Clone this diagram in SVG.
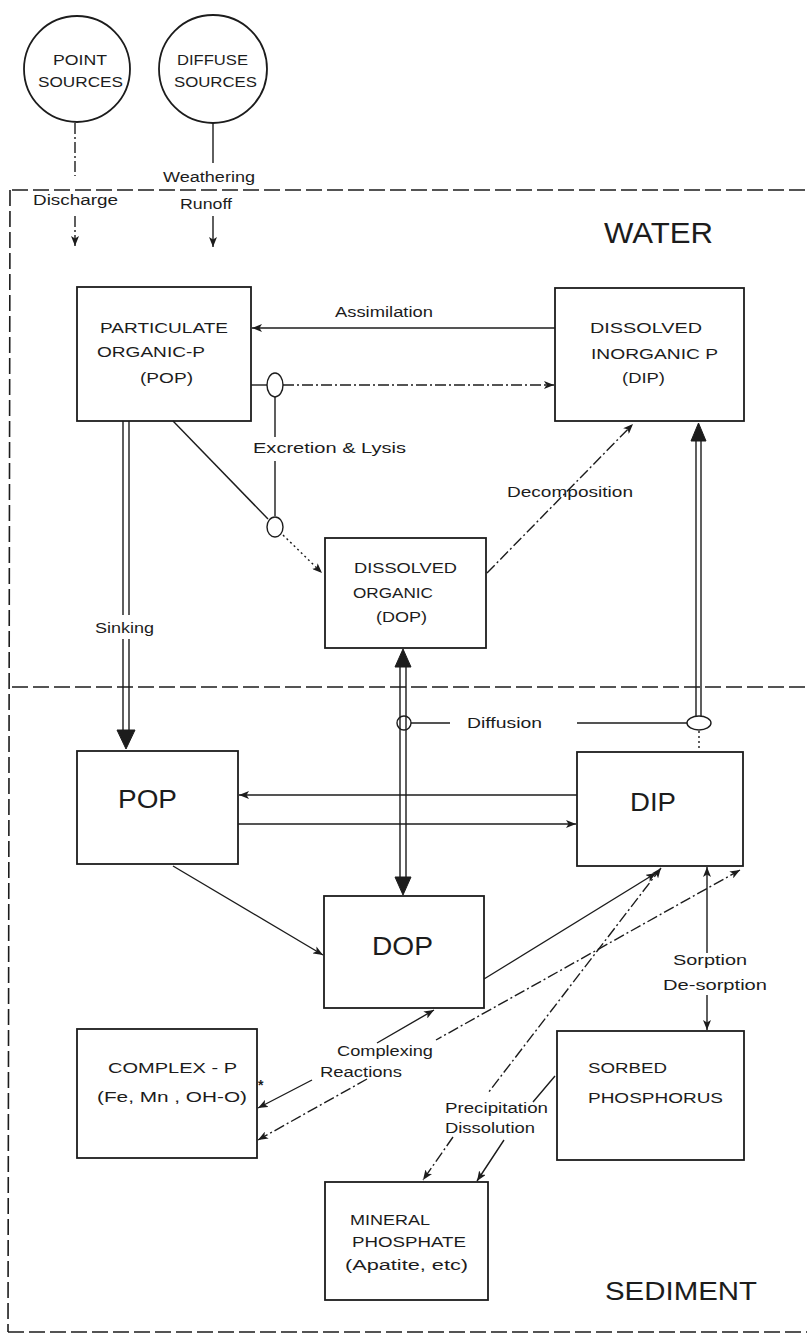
<svg xmlns="http://www.w3.org/2000/svg" width="807" height="1340" viewBox="0 0 807 1340">
<style>
.bg{fill:#ffffff}
.box{fill:none;stroke:#1c1c1c;stroke-width:1.8}
.ln{fill:none;stroke:#1c1c1c;stroke-width:1.4}
.dd{stroke-dasharray:11 3 2 3}
.dt{stroke-dasharray:2 3}
.bd{fill:none;stroke:#1c1c1c;stroke-width:1.6;stroke-dasharray:16 5}
.hd{fill:#1c1c1c;stroke:#1c1c1c;stroke-width:1}
.t{font-family:"Liberation Sans",Arial,sans-serif;fill:#1c1c1c}
.cap{font-size:15px}
.lab{font-size:14px}
.big{font-size:25px}
</style>
<defs>
<marker id="ah" viewBox="0 0 10 8" refX="10" refY="4" markerWidth="10" markerHeight="8" markerUnits="userSpaceOnUse" orient="auto-start-reverse">
<path d="M0,0 L10,4 L0,8 L2.5,4 z" fill="#1c1c1c"/>
</marker>
</defs>
<rect class="bg" x="0" y="0" width="807" height="1340"/>

<g id="boundaries">
<path class="bd" d="M12,190 L807,190"/>
<path class="bd" d="M10,190 L8,1332"/>
<path class="bd" d="M8,1332 L807,1332"/>
<path class="bd" d="M12,687 L807,687"/>
<text class="t" x="604" y="243" font-size="30" textLength="109" lengthAdjust="spacingAndGlyphs">WATER</text>
<text class="t" x="605" y="1300" font-size="26" textLength="152" lengthAdjust="spacingAndGlyphs">SEDIMENT</text>
</g>

<g id="point-sources">
<circle class="box" cx="77" cy="69" r="53"/>
<text class="t cap" x="53" y="65" textLength="54" lengthAdjust="spacingAndGlyphs">POINT</text>
<text class="t cap" x="38" y="87" textLength="85" lengthAdjust="spacingAndGlyphs">SOURCES</text>
</g>

<g id="diffuse-sources">
<circle class="box" cx="213" cy="69" r="54"/>
<text class="t cap" x="177" y="65" textLength="71" lengthAdjust="spacingAndGlyphs">DIFFUSE</text>
<text class="t cap" x="174" y="87" textLength="83" lengthAdjust="spacingAndGlyphs">SOURCES</text>
</g>

<g id="pop-water">
<rect class="box" x="77" y="287" width="174" height="134"/>
<text class="t cap" x="100" y="333" textLength="128" lengthAdjust="spacingAndGlyphs">PARTICULATE</text>
<text class="t cap" x="97" y="357" textLength="108" lengthAdjust="spacingAndGlyphs">ORGANIC-P</text>
<text class="t cap" x="140" y="383" textLength="53" lengthAdjust="spacingAndGlyphs">(POP)</text>
</g>

<g id="dip-water">
<rect class="box" x="555" y="288" width="189" height="133"/>
<text class="t cap" x="590" y="333" textLength="112" lengthAdjust="spacingAndGlyphs">DISSOLVED</text>
<text class="t cap" x="591" y="359" textLength="127" lengthAdjust="spacingAndGlyphs">INORGANIC P</text>
<text class="t cap" x="622" y="383" textLength="43" lengthAdjust="spacingAndGlyphs">(DIP)</text>
</g>

<g id="dop-water">
<rect class="box" x="325" y="538" width="161" height="110"/>
<text class="t cap" x="354" y="573" textLength="103" lengthAdjust="spacingAndGlyphs">DISSOLVED</text>
<text class="t cap" x="353" y="598" textLength="80" lengthAdjust="spacingAndGlyphs">ORGANIC</text>
<text class="t cap" x="376" y="622" textLength="51" lengthAdjust="spacingAndGlyphs">(DOP)</text>
</g>

<g id="pop-sediment">
<rect class="box" x="77" y="751" width="161" height="113"/>
<text class="t big" x="118" y="808" textLength="59" lengthAdjust="spacingAndGlyphs">POP</text>
</g>

<g id="dip-sediment">
<rect class="box" x="577" y="752" width="166" height="114"/>
<text class="t big" x="630" y="811" textLength="46" lengthAdjust="spacingAndGlyphs">DIP</text>
</g>

<g id="dop-sediment">
<rect class="box" x="324" y="896" width="160" height="112"/>
<text class="t big" x="372" y="955" textLength="61" lengthAdjust="spacingAndGlyphs">DOP</text>
</g>

<g id="complex-p">
<rect class="box" x="77" y="1029" width="180" height="129"/>
<text class="t cap" x="108" y="1073" textLength="129" lengthAdjust="spacingAndGlyphs">COMPLEX - P</text>
<text class="t cap" x="97" y="1102" textLength="150" lengthAdjust="spacingAndGlyphs">(Fe, Mn , OH-O)</text>
</g>

<g id="sorbed-phosphorus">
<rect class="box" x="557" y="1031" width="187" height="129"/>
<text class="t cap" x="588" y="1073" textLength="79" lengthAdjust="spacingAndGlyphs">SORBED</text>
<text class="t cap" x="588" y="1103" textLength="135" lengthAdjust="spacingAndGlyphs">PHOSPHORUS</text>
</g>

<g id="mineral-phosphate">
<rect class="box" x="325" y="1182" width="163" height="118"/>
<text class="t lab" x="350" y="1225" textLength="80" lengthAdjust="spacingAndGlyphs">MINERAL</text>
<text class="t lab" x="352" y="1247" textLength="114" lengthAdjust="spacingAndGlyphs">PHOSPHATE</text>
<text class="t lab" x="345" y="1270" textLength="123" lengthAdjust="spacingAndGlyphs">(Apatite, etc)</text>
</g>

<g id="connectors">
<!-- sources -->
<path class="ln dd" d="M75,123 L75,176"/>
<text class="t lab" x="33" y="205" textLength="85" lengthAdjust="spacingAndGlyphs">Discharge</text>
<path class="ln dd" d="M75,216 L75,246" marker-end="url(#ah)"/>
<path class="ln" d="M213,123 L213,163"/>
<text class="t lab" x="163" y="182" textLength="92" lengthAdjust="spacingAndGlyphs">Weathering</text>
<text class="t lab" x="180" y="209" textLength="52" lengthAdjust="spacingAndGlyphs">Runoff</text>
<path class="ln" d="M213,216 L213,247" marker-end="url(#ah)"/>

<!-- assimilation -->
<path class="ln" d="M555,328 L252,328" marker-end="url(#ah)"/>
<text class="t lab" x="335" y="317" textLength="98" lengthAdjust="spacingAndGlyphs">Assimilation</text>

<!-- excretion & lysis -->
<path class="ln" d="M251,385 L267,385"/>
<path class="ln dd" d="M283,385 L554,385" marker-end="url(#ah)"/>
<ellipse class="ln" cx="275" cy="385" rx="8" ry="12"/>
<path class="ln" d="M275,397 L275,437 M275,461 L275,516"/>
<ellipse class="ln" cx="275" cy="527" rx="8" ry="10"/>
<text class="t lab" x="253" y="453" textLength="153" lengthAdjust="spacingAndGlyphs">Excretion &amp; Lysis</text>
<path class="ln" d="M173,421 L268,519"/>
<path class="ln dt" d="M283,535 L322,573" marker-end="url(#ah)"/>

<!-- decomposition -->
<path class="ln dd" d="M487,573 L633,424" marker-end="url(#ah)"/>
<text class="t lab" x="507" y="497" textLength="126" lengthAdjust="spacingAndGlyphs">Decomposition</text>

<!-- sinking -->
<path class="ln" d="M123,421 L123,615 M129,421 L129,615 M123,639 L123,733 M129,639 L129,733"/>
<polygon class="hd" points="117,730 135,730 126,749"/>
<text class="t lab" x="95" y="633" textLength="59" lengthAdjust="spacingAndGlyphs">Sinking</text>

<!-- DOP water <-> DOP sediment -->
<path class="ln" d="M400,664 L400,880 M406,664 L406,880"/>
<polygon class="hd" points="395,667 411,667 403,649"/>
<polygon class="hd" points="395,877 411,877 403,895"/>
<circle class="ln" cx="404" cy="723" r="7"/>

<!-- DIP water <-> DIP sediment -->
<path class="ln" d="M696,438 L696,716 M701,438 L701,716"/>
<polygon class="hd" points="691,441 706,441 698.5,423"/>
<ellipse class="ln" cx="699" cy="723" rx="12" ry="7"/>
<path class="ln dt" d="M699,731 L699,751"/>

<!-- diffusion -->
<path class="ln" d="M411,723 L450,723 M577,723 L687,723"/>
<text class="t lab" x="467" y="728" textLength="75" lengthAdjust="spacingAndGlyphs">Diffusion</text>

<!-- POP <-> DIP sediment -->
<path class="ln" d="M577,795 L239,795" marker-end="url(#ah)"/>
<path class="ln" d="M238,824 L576,824" marker-end="url(#ah)"/>

<!-- POP -> DOP sediment -->
<path class="ln" d="M173,866 L323,955" marker-end="url(#ah)"/>

<!-- DOP -> DIP sediment -->
<path class="ln" d="M484,979 L656,873" marker-end="url(#ah)"/>

<!-- complexing reactions -->
<path class="ln" d="M434,1010 L377,1043 M312,1080 L258,1108" marker-start="url(#ah)" marker-end="url(#ah)"/>
<path class="ln dd" d="M740,870 L436,1040 M367,1079 L258,1140" marker-start="url(#ah)" marker-end="url(#ah)"/>
<text class="t lab" x="337" y="1056" textLength="96" lengthAdjust="spacingAndGlyphs">Complexing</text>
<text class="t lab" x="320" y="1077" textLength="82" lengthAdjust="spacingAndGlyphs">Reactions</text>
<text class="t" x="258" y="1090" font-size="14" font-weight="bold">*</text>

<!-- sorption -->
<path class="ln" d="M707,867 L707,953" marker-start="url(#ah)"/>
<path class="ln" d="M707,995 L707,1030" marker-end="url(#ah)"/>
<text class="t lab" x="673" y="965" textLength="74" lengthAdjust="spacingAndGlyphs">Sorption</text>
<text class="t lab" x="663" y="990" textLength="104" lengthAdjust="spacingAndGlyphs">De-sorption</text>

<!-- precipitation / dissolution -->
<path class="ln dd" d="M661,868 L488,1093 M453,1137 L423,1180" marker-start="url(#ah)" marker-end="url(#ah)"/>
<path class="ln" d="M555,1076 L533,1102 M504,1140 L477,1181" marker-end="url(#ah)"/>
<text class="t lab" x="445" y="1113" textLength="103" lengthAdjust="spacingAndGlyphs">Precipitation</text>
<text class="t lab" x="445" y="1133" textLength="90" lengthAdjust="spacingAndGlyphs">Dissolution</text>
</g>
</svg>
